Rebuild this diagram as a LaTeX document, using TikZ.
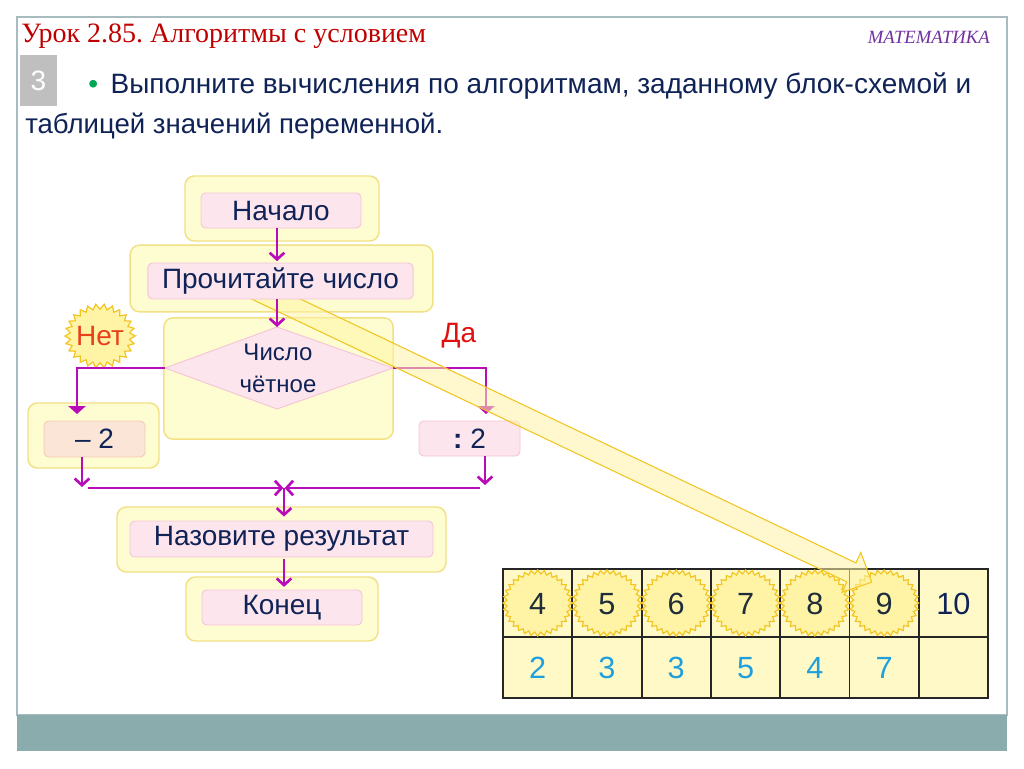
\documentclass[tikz,border=0pt]{standalone}
\usepackage{fontspec}
\setmainfont{Liberation Serif}
\newfontfamily\arial{Liberation Sans}
\usetikzlibrary{arrows.meta}
\frenchspacing
\definecolor{yfill}{HTML}{FEFDD2}
\definecolor{ybord}{HTML}{F2E184}
\definecolor{pfill}{HTML}{FDE5EE}
\definecolor{pbord}{HTML}{F4C5D5}
\definecolor{peach}{HTML}{FBE5D6}
\definecolor{peachb}{HTML}{F3CCB5}
\definecolor{mag}{HTML}{B80CB8}
\definecolor{navy}{HTML}{0F2357}
\definecolor{titred}{HTML}{C00000}
\definecolor{purp}{HTML}{7030A0}
\definecolor{bgreen}{HTML}{00A651}
\definecolor{framec}{HTML}{A8BCC0}
\definecolor{band}{HTML}{8AACAC}
\definecolor{cellfill}{HTML}{FFF9C8}
\definecolor{sunfill}{HTML}{FFF4A6}
\definecolor{sunbord}{HTML}{F2C522}
\definecolor{netred}{HTML}{E8401A}
\definecolor{dared}{HTML}{E01010}
\definecolor{cyanb}{HTML}{1FA0DC}
\definecolor{dgray}{HTML}{1F2D3A}
\newcommand\zsun[8]{%
  \path[#1] plot[domain=0:360, samples=#7, variable=\t]
    ({#2+(#4-#8*(1-cos(#6*\t)))*cos(\t)}, {#3+(#5-#8*(1-cos(#6*\t)))*sin(\t)}) -- cycle;}
\begin{document}
\begin{tikzpicture}[x=0.75pt,y=-0.75pt,
  outer/.style={draw=ybord, fill=yfill, line width=1.1pt, rounded corners=7pt, inner sep=0pt},
  inner/.style={draw=pbord, fill=pfill, line width=0.7pt, rounded corners=3.5pt, inner sep=0pt,
    text=navy, font=\arial\fontsize{21}{25}\selectfont},
  mline/.style={draw=mag, line width=2pt},
  barb/.style={mline, -{Straight Barb[length=5pt,width=11pt]}},
  tri/.style={mline, -{Triangle[length=6pt,width=13pt]}},
  cell/.style={draw=black!85, line width=1.4pt, fill=cellfill, minimum width=52pt, inner sep=0pt, outer sep=0pt},
  sun/.style={draw=sunbord, fill=sunfill, line width=0.9pt},
  num/.style={font=\arial\fontsize{23}{27}\selectfont, inner sep=0pt, text height=16.5pt, text depth=0pt},
  bigarrow/.style={draw=sunbord, fill=sunfill, fill opacity=0.55, line width=0.8pt, line join=miter}
]
\useasboundingbox (0,0) rectangle (1024,768);
\fill[white] (0,0) rectangle (1024,768);
% frame and band
\draw[framec, line width=0.8pt] (17,17) rectangle (1007,715);
\fill[band] (17,715) rectangle (1007,751);
% header
\node[anchor=base west, inner sep=0pt, text=titred, font=\fontsize{21}{25}\selectfont] (title) at (21,42) {Урок 2.85. Алгоритмы с условием};
\node[anchor=base east, inner sep=0pt, text=purp, font=\itshape\fontsize{14}{16}\selectfont] (subj) at (990,43) {МАТЕМАТИКА};
\node[fill=black!25, minimum width=27.75pt, minimum height=38.25pt, inner sep=0pt, text=white, font=\arial\fontsize{21}{25}\selectfont] (num3) at (38.5,80.5) {3};
\node[anchor=base west, inner sep=0pt, text=navy, font=\arial\fontsize{21}{25}\selectfont] (line1) at (88,93) {\textcolor{bgreen}{•}\hspace{0.45em}Выполните вычисления по алгоритмам, заданному блок-схемой и};
\node[anchor=base west, inner sep=0pt, text=navy, font=\arial\fontsize{20.7}{25}\selectfont] (line2) at (25,133) {таблицей значений переменной.};
% outer boxes
\node[outer, minimum width=145.5pt, minimum height=48.75pt] (o1) at (282,208.5) {};
\node[outer, minimum width=227pt, minimum height=50pt] (o2) at (281.5,278.5) {};
\node[outer, minimum width=172pt, minimum height=91pt] (o3) at (278.5,378.5) {};
\node[outer, minimum width=98.25pt, minimum height=48.75pt] (o4) at (93.5,435.5) {};
\node[outer, minimum width=246.75pt, minimum height=48.75pt] (o6) at (281.5,539.5) {};
\node[outer, minimum width=144pt, minimum height=48pt] (o7) at (282,609) {};
% inner boxes
\node[inner, minimum width=120pt, minimum height=26.25pt] (i1) at (281,210.5) {Начало};
\node[inner, fill=peach, draw=peachb, minimum width=75.75pt, minimum height=27pt] (i4) at (94.5,439) {– 2};
\node[inner, minimum width=75.75pt, minimum height=26.25pt] (i5) at (469.5,438.5) {\textbf{:} 2};
\node[inner, minimum width=227.25pt, minimum height=27pt] (i6) at (281.5,539) {Назовите результат};
\node[inner, minimum width=120pt, minimum height=26.25pt] (i7) at (282,607.5) {Конец};
% diamond
\coordinate (dl) at (165,368);
\coordinate (dt) at (277,327);
\coordinate (dr) at (393,368);
\coordinate (db) at (277,409);
\path[draw=pbord, fill=pfill, line width=0.7pt] (dl) -- (dt) -- (dr) -- (db) -- cycle;
\node[align=center, inner sep=0pt, text=navy, font=\arial\fontsize{18}{24}\selectfont] (cond) at (278,368) {Число\\чётное};
% Net / Da
\zsun{sun}{100}{336}{35}{32}{26}{53}{2.6}
\node[inner sep=0pt, text=netred, font=\arial\fontsize{21}{25}\selectfont] (net) at (100,336) {Нет};
\node[inner sep=0pt, text=dared, font=\arial\fontsize{21}{25}\selectfont] (da) at (459,336) {Да};
% table
\foreach \i in {1,...,7} {
  \node[cell, minimum height=51pt] (c\i) at ({503+69.3*(\i-0.5)},603) {};
  \node[cell, minimum height=45.75pt] (d\i) at ({503+69.3*(\i-0.5)},667.5) {};
}
\foreach \i in {1,...,6} {
  \zsun{sun}{503+69.3*(\i-0.5)}{603}{34.5}{33}{32}{65}{1.9}
}
\foreach \v [count=\i] in {4,5,6,7,8,9} {
  \node[num, text=dgray] (n\i) at (c\i) {\v};
}
\node[num, text=navy] (n7) at (c7) {10};
\foreach \v [count=\i] in {2,3,3,5,4,7} {
  \node[num, text=cyanb] (m\i) at (d\i) {\v};
}
% connectors (except those of the reading box)
\coordinate (axis) at (277,0);
\coordinate (nl) at (77,414);
\coordinate (dr2) at (486,414);
\coordinate (lb) at (82,487);
\coordinate (rb) at (485,485);
\coordinate (hl) at (88,488);
\coordinate (hr) at (480,488);
\coordinate (jn) at (284,488);
\draw[tri] (dl) -| (nl);
\draw[tri] (dr) -| (dr2);
\draw[barb] (i4.south -| lb) -- (lb);
\draw[barb] (i5.south -| rb) -- (rb);
\draw[barb] (hl) -- ([xshift=-0.5pt]jn);
\draw[barb] (hr) -- ([xshift=0.5pt]jn);
\draw[barb] (jn) -- ([yshift=3pt]i6.north -| jn);
\draw[barb] ([yshift=-1pt]i6.south -| jn) -- ([yshift=2pt]i7.north -| jn);
% big highlight arrow
\path[bigarrow] (255.4,277.6) -- (855.9,562.9) -- (860.8,552.5) -- (871.7,582.1) -- (842.0,592.3) -- (846.9,581.9) -- (246.4,296.6) -- cycle;
% reading box on top
\node[inner, minimum width=199pt, minimum height=27pt] (i2) at (280.5,281) {Прочитайте число};
\draw[barb] (i1.south -| axis) -- ([yshift=1pt]i2.north -| axis);
\draw[barb] (i2.south -| axis) -- (dt);
\end{tikzpicture}
\end{document}
